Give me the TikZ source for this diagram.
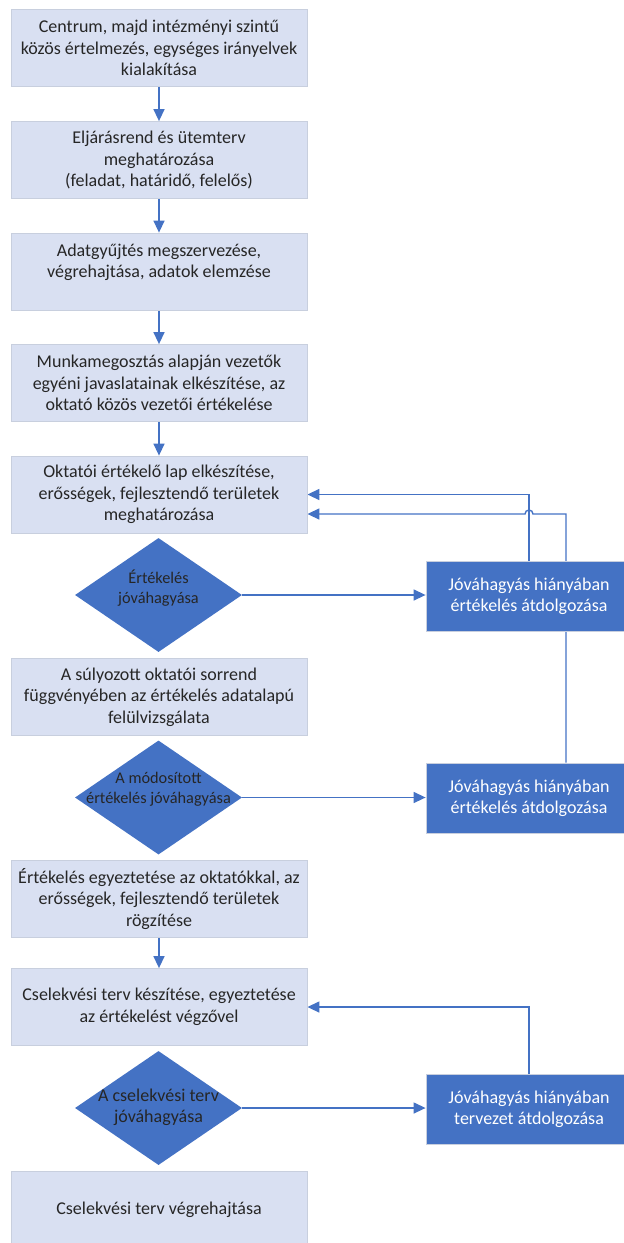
\documentclass[tikz,border=0pt]{standalone}
\usepackage{fontspec}
\setmainfont{Carlito}
\usetikzlibrary{shapes.geometric, arrows.meta, backgrounds}

\definecolor{lapkek}{RGB}{217,224,242}
\definecolor{keret}{RGB}{200,207,222}
\definecolor{sotetkek}{RGB}{68,114,196}
\definecolor{szoveg}{RGB}{38,38,38}

\tikzset{
	lepes/.style = {rectangle, draw = keret, line width = 0.8pt, fill = lapkek, text = szoveg, align = center, inner sep = 0pt, minimum width = 296pt, minimum height = 77pt, font = \fontsize{18}{21.7}\selectfont},
	dontes/.style = {diamond, fill = sotetkek, inner sep = 0pt, minimum width = 167pt, minimum height = 114pt},
	dontesfelirat/.style = {align = center, text = szoveg, inner sep = 0pt, font = \fontsize{16.3}{20.5}\selectfont},
	javitas/.style = {rectangle, draw = keret, line width = 0.8pt, fill = sotetkek, text = white, align = center, inner sep = 0pt, minimum width = 206pt, minimum height = 70pt, font = \fontsize{18}{21}\selectfont},
	nyil/.style = {->, draw = sotetkek, line width = 1.4pt}
}

\begin{document}
\begin{tikzpicture}[x = 1pt, y = -1pt, > = {Triangle[length = 12pt, width = 11pt]}]

	\useasboundingbox (0, 0) rectangle (624, 1243);

	% Main steps

	\node [lepes] (l1) at (159, 48) {Centrum, majd intézményi szintű\\közös értelmezés, egységes irányelvek\\kialakítása};
	\node [lepes] (l2) at (159, 160) {Eljárásrend és ütemterv\\meghatározása\\(feladat, határidő, felelős)};
	\node [lepes] (l3) at (159, 271.5) {Adatgyűjtés megszervezése,\\végrehajtása, adatok elemzése\\ \mbox{}};
	\node [lepes] (l4) at (159, 383) {Munkamegosztás alapján vezetők\\egyéni javaslatainak elkészítése, az\\oktató közös vezetői értékelése};
	\node [lepes] (l5) at (159, 494.5) {Oktatói értékelő lap elkészítése,\\erősségek, fejlesztendő területek\\meghatározása};
	\node [lepes] (l6) at (159, 697) {A súlyozott oktatói sorrend\\függvényében az értékelés adatalapú\\felülvizsgálata};
	\node [lepes] (l7) at (159, 899) {Értékelés egyeztetése az oktatókkal, az\\erősségek, fejlesztendő területek\\rögzítése};
	\node [lepes] (l8) at (159, 1007) {Cselekvési terv készítése, egyeztetése\\az értékelést végzővel};
	\node [lepes] (l9) at (159, 1210) {Cselekvési terv végrehajtása};

	% Decisions

	\node [dontes] (d1) at (158.5, 595) {};
	\node [dontesfelirat] (d1t) at (158.5, 588) {Értékelés\\jóváhagyása};
	\node [dontes] (d2) at (158.5, 797.5) {};
	\node [dontesfelirat] (d2t) at (158.5, 789) {A módosított\\értékelés jóváhagyása};
	\node [dontes] (d3) at (158.5, 1108) {};
	\node [dontesfelirat, font = \fontsize{18}{21}\selectfont] (d3t) at (158.5, 1107) {A cselekvési terv\\jóváhagyása};

	% Rework boxes

	\node [javitas] (j1) at (529, 596) {Jóváhagyás hiányában\\értékelés átdolgozása};
	\node [javitas] (j2) at (529, 798) {Jóváhagyás hiányában\\értékelés átdolgozása};
	\node [javitas] (j3) at (529, 1109.5) {Jóváhagyás hiányában\\tervezet átdolgozása};

	% Arrows

	\coordinate (also) at ([yshift = -19.5pt] l5.east);

	\begin{scope}[on background layer]
		\draw [nyil] (l1) -- (l2);
		\draw [nyil] (l2) -- (l3);
		\draw [nyil] (l3) -- (l4);
		\draw [nyil] (l4) -- (l5);
		\draw [nyil] (l7) -- (l8);

		\draw [nyil] (d1.east) -- (d1.east -| j1.west);
		\draw [nyil] (d2.east) -- (d2.east -| j2.west);
		\draw [nyil] (d3.east) -- (d3.east -| j3.west);

		\draw [nyil] (j1.north) |- (l5.east);
		\draw [nyil] ([xshift = 37pt] j2.north) |- ([xshift = 4pt] j1.north |- also) arc [start angle = 0, end angle = 180, radius = 4pt] -- (also);
		\draw [nyil] (j3.north) |- (l8.east);
	\end{scope}

\end{tikzpicture}
\end{document}
